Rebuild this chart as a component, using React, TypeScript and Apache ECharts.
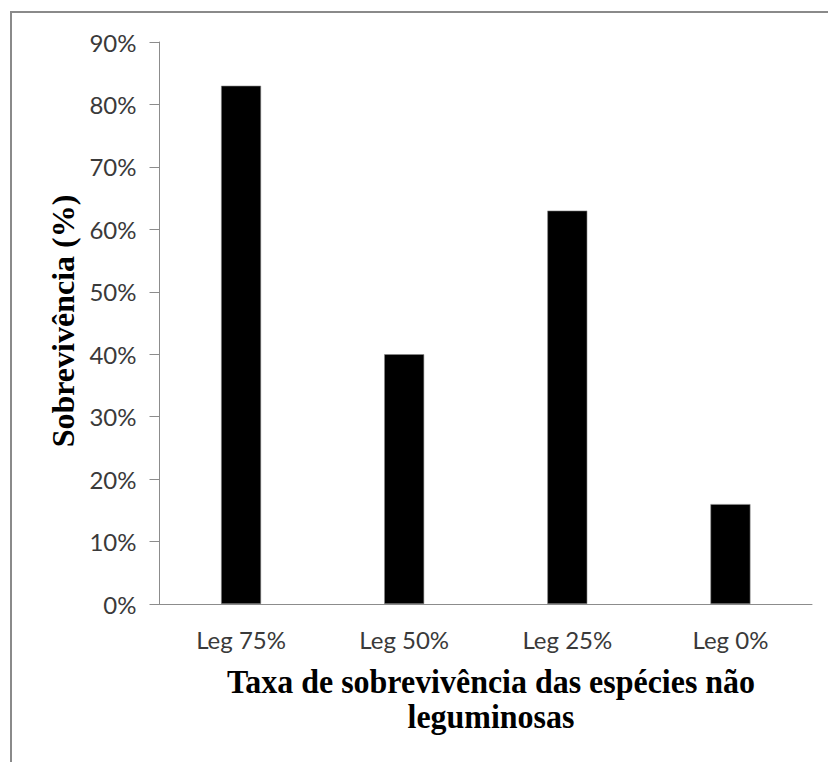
import React, { useEffect, useRef } from "react";
import * as echarts from "echarts";

// Survival rate of non-leguminous species by legume proportion
const categories = ["Leg 75%", "Leg 50%", "Leg 25%", "Leg 0%"];
const survival = [83, 40, 63, 16];
const yTicks = { min: 0, max: 90, interval: 10 };

const xTitle = "Taxa de sobrevivência das espécies não\nleguminosas";
const yTitle = "Sobrevivência (%)";

export default function App() {
  const ref = useRef<HTMLDivElement>(null);

  useEffect(() => {
    if (!ref.current) return;
    const chart = echarts.init(ref.current, null, { renderer: "svg" });
    const axisGray = "#8c8c8c";
    const labelFont = "Lato, 'Open Sans', sans-serif";
    const titleFont = "'Liberation Serif', 'Times New Roman', serif";
    chart.setOption({
      animation: false,
      backgroundColor: "#ffffff",
      grid: { left: 159.5, right: 16, top: 42, bottom: 158 },
      xAxis: {
        type: "category",
        data: categories,
        axisLine: { show: true, lineStyle: { color: axisGray, width: 1 } },
        axisTick: { show: false },
        axisLabel: {
          color: "#3a3a3a",
          fontFamily: labelFont,
          fontSize: 24,
          margin: 23,
        },
      },
      yAxis: {
        type: "value",
        min: yTicks.min,
        max: yTicks.max,
        interval: yTicks.interval,
        splitLine: { show: false },
        axisLine: { show: true, lineStyle: { color: axisGray, width: 1 } },
        axisTick: { show: true, length: 10, lineStyle: { color: axisGray, width: 1 } },
        axisLabel: {
          color: "#3a3a3a",
          fontFamily: labelFont,
          fontSize: 24,
          margin: 23,
          formatter: "{value}%",
        },
      },
      series: [
        {
          type: "bar",
          data: survival,
          barWidth: 40,
          itemStyle: { color: "#000000", borderColor: "#8a8a8a", borderWidth: 0.6 },
        },
      ],
      graphic: [
        {
          type: "rect",
          shape: { x: 11, y: 12, width: 1000, height: 1000 },
          style: { fill: "none", stroke: "#8a8a8a", lineWidth: 2 },
          silent: true,
        },
        {
          type: "text",
          x: 491,
          y: 699,
          scaleX: 0.94,
          style: {
            text: xTitle,
            fontFamily: titleFont,
            fontWeight: "bold",
            fontSize: 34,
            lineHeight: 35,
            fill: "#000000",
            textAlign: "center",
            textVerticalAlign: "middle",
          },
        },
        {
          type: "text",
          x: 63,
          y: 321,
          rotation: Math.PI / 2,
          style: {
            text: yTitle,
            fontFamily: titleFont,
            fontWeight: "bold",
            fontSize: 32,
            fill: "#000000",
            textAlign: "center",
            textVerticalAlign: "middle",
          },
        },
      ],
    });
    return () => chart.dispose();
  }, []);

  return (
    <div
      ref={ref}
      style={{ position: "absolute", left: 0, top: 0, width: 828, height: 762 }}
    />
  );
}
